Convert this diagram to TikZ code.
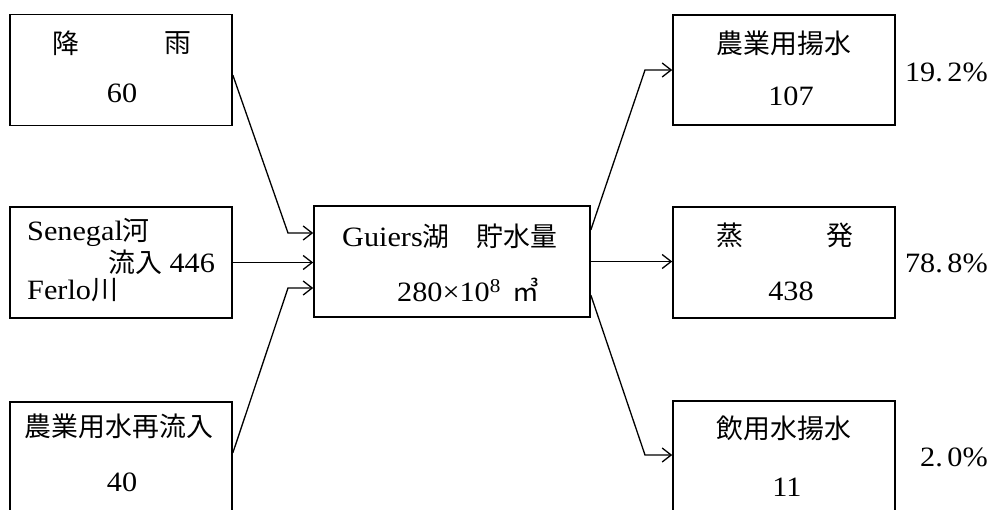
\documentclass[tikz,border=0pt]{standalone}
\usepackage{fontspec}
\setmainfont[FakeStretch=1.08]{Liberation Serif}
\newfontfamily\cjk[Scale=0.96]{Noto Sans CJK JP}
\usetikzlibrary{arrows.meta}
\begin{document}
\begin{tikzpicture}[x=1pt,y=-1pt,
  box/.style={draw,line width=1.6pt,minimum width=222pt,minimum height=111pt,inner sep=0pt},
  txt/.style={inner sep=0pt,font=\fontsize{28}{32}\selectfont},
  flow/.style={line width=1.3pt,-{Straight Barb[length=9pt,width=14pt,line width=1.3pt]}}]
\useasboundingbox (0,0) rectangle (992,509);
% boxes
\node[box] (rain) at (121,70) {};
\node[box] (sen) at (121,262.5) {};
\node[box,minimum height=112pt] (agr) at (121,458) {};
\node[box,minimum width=276pt] (lake) at (452,261.5) {};
\node[box,minimum height=110pt] (pump) at (784,70) {};
\node[box] (evap) at (784,262.5) {};
\node[box,minimum height=112pt] (drink) at (784,457) {};
% texts left
\node[txt] (r1) at (66,43) {\cjk 降};
\node[txt] (r2) at (178,43) {\cjk 雨};
\node[txt] (r3) at (122,93) {60};
\node[txt,anchor=west] (s1) at (27,232) {Senegal{\cjk 河}};
\node[txt,anchor=west] (s2) at (108,262) {{\cjk 流入} 446};
\node[txt,anchor=west] (s3) at (27,290) {Ferlo{\cjk 川}};
\node[txt] (a1) at (119,426) {\cjk 農業用水再流入};
\node[txt] (a2) at (122,482) {40};
% center
\node[txt,anchor=west] (l1) at (342,236) {Guiers{\cjk 湖　貯水量}};
\node[txt,anchor=west] (l2) at (397,290) {280×10\textsuperscript{8}\hspace{12pt}{\cjk ㎥}};
% right
\node[txt] (p1) at (784,43) {\cjk 農業用揚水};
\node[txt] (p2) at (791,96) {107};
\node[txt] (e1) at (730,235) {\cjk 蒸};
\node[txt] (e2) at (840,235) {\cjk 発};
\node[txt] (e3) at (791,291) {438};
\node[txt] (d1) at (784,428) {\cjk 飲用水揚水};
\node[txt] (d2) at (787,487) {11};
% percentages
\node[txt,anchor=east] (pc1) at (988,72) {19.\,2\%};
\node[txt,anchor=east] (pc2) at (988,263) {78.\,8\%};
\node[txt,anchor=east] (pc3) at (988,457) {2.\,0\%};
% kinks
\coordinate (k1) at (288,233);
\coordinate (k2) at (288,288);
\coordinate (k3) at (645,70);
\coordinate (k4) at (645,455);
% connectors
\draw[flow] ([yshift=-5pt]rain.east) -- (k1) -- ([yshift=28.5pt]lake.west);
\draw[flow] (sen.east) -- (sen.east -| lake.west);
\draw[flow] ([yshift=5pt]agr.east) -- (k2) -- ([yshift=-26.5pt]lake.west);
\draw[flow] ([yshift=31.5pt]lake.east) -- (k3) -- (pump.west);
\draw[flow] (lake.east) -- (lake.east -| evap.west);
\draw[flow] ([yshift=-33.5pt]lake.east) -- (k4) -- ([yshift=2pt]drink.west);
\end{tikzpicture}
\end{document}
